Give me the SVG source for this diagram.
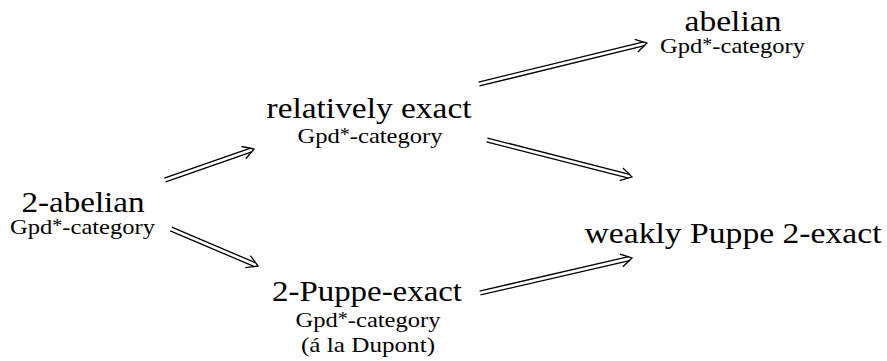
<svg xmlns="http://www.w3.org/2000/svg" width="887" height="361" viewBox="0 0 887 361">
  <style>
    text { font-family: "Liberation Serif", "DejaVu Serif", serif; fill: #000; text-anchor: middle; }
    .big { font-size: 30px; }
    .small { font-size: 22px; }
    .sup { font-size: 18px; }
    .arr path { fill: none; stroke: #000; stroke-width: 1.3; stroke-linecap: butt; }
  </style>
  <rect width="887" height="361" fill="#fff"/>

  <!-- implication arrows: double shaft plus a curved open head, drawn along the local x axis -->
  <g id="connectors">
    <g class="arr" transform="translate(165,180) rotate(-19.2)">
      <path d="M0,-2 H91.2 M0,2 H91.2"/>
      <path d="M83.2,-6.5 Q91.1,-2 94.2,0 Q91.1,2 83.2,6.5"/>
    </g>
    <g class="arr" transform="translate(171,229) rotate(23.04)">
      <path d="M0,-2 H91.5 M0,2 H91.5"/>
      <path d="M83.5,-6.5 Q91.4,-2 94.5,0 Q91.4,2 83.5,6.5"/>
    </g>
    <g class="arr" transform="translate(479,84) rotate(-13.71)">
      <path d="M0,-2 H169.9 M0,2 H169.9"/>
      <path d="M161.9,-6.5 Q169.8,-2 172.9,0 Q169.8,2 161.9,6.5"/>
    </g>
    <g class="arr" transform="translate(487,140) rotate(14.31)">
      <path d="M0,-2 H146.6 M0,2 H146.6"/>
      <path d="M138.6,-6.5 Q146.5,-2 149.6,0 Q146.5,2 138.6,6.5"/>
    </g>
    <g class="arr" transform="translate(480,293) rotate(-12.97)">
      <path d="M0,-2 H153 M0,2 H153"/>
      <path d="M145,-6.5 Q152.9,-2 156,0 Q152.9,2 145,6.5"/>
    </g>
  </g>

  <g id="node-2-abelian">
    <text class="big" x="83" y="212" textLength="123" lengthAdjust="spacingAndGlyphs">2-abelian</text>
    <text class="small" x="82.5" y="234" textLength="145" lengthAdjust="spacingAndGlyphs">Gpd<tspan class="sup" dy="-2">*</tspan><tspan dy="2">-category</tspan></text>
  </g>

  <g id="node-relatively-exact">
    <text class="big" x="369" y="118" textLength="205" lengthAdjust="spacingAndGlyphs">relatively exact</text>
    <text class="small" x="370" y="143" textLength="145" lengthAdjust="spacingAndGlyphs">Gpd<tspan class="sup" dy="-2">*</tspan><tspan dy="2">-category</tspan></text>
  </g>

  <g id="node-2-puppe-exact">
    <text class="big" x="367" y="301" textLength="190" lengthAdjust="spacingAndGlyphs">2-Puppe-exact</text>
    <text class="small" x="368" y="327" textLength="145" lengthAdjust="spacingAndGlyphs">Gpd<tspan class="sup" dy="-2">*</tspan><tspan dy="2">-category</tspan></text>
    <text class="small" x="368" y="352" textLength="134" lengthAdjust="spacingAndGlyphs">(á la Dupont)</text>
  </g>

  <g id="node-abelian">
    <text class="big" x="733" y="31" textLength="97" lengthAdjust="spacingAndGlyphs">abelian</text>
    <text class="small" x="732.5" y="53" textLength="145" lengthAdjust="spacingAndGlyphs">Gpd<tspan class="sup" dy="-2">*</tspan><tspan dy="2">-category</tspan></text>
  </g>

  <g id="node-weakly-puppe">
    <text class="big" x="733" y="243" textLength="297" lengthAdjust="spacingAndGlyphs">weakly Puppe 2-exact</text>
  </g>
</svg>
